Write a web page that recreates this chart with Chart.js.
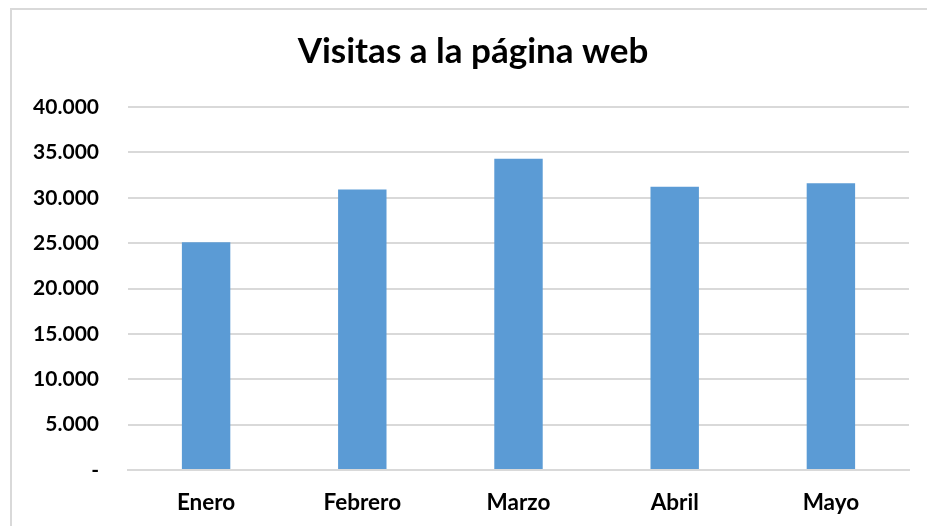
<!DOCTYPE html>
<html>
<head>
<meta charset="utf-8">
<script src="https://cdn.jsdelivr.net/npm/chart.js@4"></script>
<style>
  html, body { margin: 0; padding: 0; background: #fff; overflow: hidden; }
  #frame { position: absolute; left: 10px; top: 8px; width: 1000px; height: 600px;
           border-left: 2px solid #d9d9d9; border-top: 2px solid #d9d9d9; }
  #visitasChart { position: absolute; left: 0; top: 0; }
</style>
</head>
<body>
<div id="frame"></div>
<canvas id="visitasChart" width="927" height="526"></canvas>
<script>
// Datos del gráfico
const meses = ['Enero', 'Febrero', 'Marzo', 'Abril', 'Mayo'];
const visitas = [25100, 30900, 34300, 31200, 31600];
const yTicks = [0, 5000, 10000, 15000, 20000, 25000, 30000, 35000, 40000];

// 40000 -> "40.000", 0 -> "-"
const formatMiles = (v) => {
  if (v === 0) return '-';
  return String(v).replace(/\B(?=(\d{3})+(?!\d))/g, '.');
};

// the title in the original sits a bit right of the canvas centre
const titleShift = {
  id: 'titleShift',
  afterLayout(chart) {
    if (chart.titleBlock) chart.titleBlock.left += 37;
  }
};

const ctx = document.getElementById('visitasChart').getContext('2d');
new Chart(ctx, {
  type: 'bar',
  data: {
    labels: meses,
    datasets: [{
      label: 'Visitas',
      data: visitas,
      backgroundColor: '#5b9bd5',
      borderWidth: 0,
      barPercentage: 0.31,
      categoryPercentage: 1,
    }]
  },
  plugins: [titleShift],
  options: {
    responsive: false,
    animation: false,
    layout: { padding: { left: 0, right: 18, top: 0, bottom: 11 } },
    plugins: {
      legend: { display: false },
      tooltip: { enabled: false },
      title: {
        display: true,
        text: 'Visitas a la página web',
        color: '#000',
        font: { family: 'Lato', size: 35, weight: 'bold' },
        padding: { top: 31, bottom: 34 },
      },
    },
    scales: {
      x: {
        afterFit: (axis) => { axis.height = 45; },
        grid: { display: false, drawTicks: false },
        border: { display: true, color: '#d9d9d9', width: 2 },
        ticks: {
          color: '#000',
          padding: 19,
          font: { family: 'Lato', size: 22.5, weight: 'bold' },
        },
      },
      y: {
        min: 0,
        max: 40000,
        afterBuildTicks: (axis) => { axis.ticks = yTicks.map(v => ({ value: v })); },
        afterFit: (axis) => { axis.width = 128; },
        grid: { color: '#d9d9d9', lineWidth: 2, drawTicks: false },
        border: { display: false },
        ticks: {
          color: '#000',
          padding: 29,
          font: { family: 'Lato', size: 21, weight: 'bold' },
          callback: (v) => formatMiles(v),
        },
      },
    },
  },
});
</script>
</body>
</html>
